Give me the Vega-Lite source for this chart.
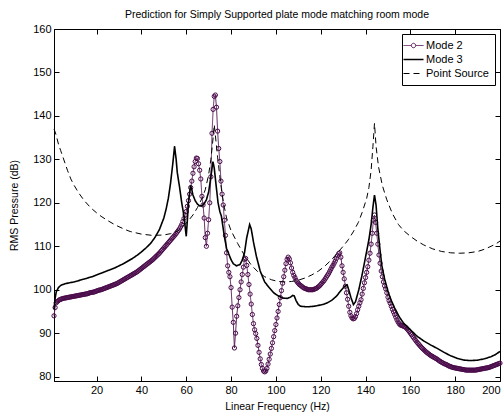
{
"$schema": "https://vega.github.io/schema/vega-lite/v6.json",
"width": 446, "height": 352,
"autosize": {"type": "none"},
"padding": {"left": 54, "top": 29, "right": 3, "bottom": 33},
"background": "white",
"title": {"text": "Prediction for Simply Supported plate mode matching room mode", "fontSize": 10.5, "fontWeight": "normal", "font": "Liberation Sans", "offset": 3, "color": "black"},
"config": {
 "view": {"stroke": "black", "strokeWidth": 1},
 "axis": {"domainColor": "black", "tickColor": "black", "labelColor": "black", "titleColor": "black", "labelFont": "Liberation Sans", "titleFont": "Liberation Sans", "labelFontSize": 11, "titleFontSize": 10.5, "titleFontWeight": "normal", "grid": false, "tickSize": -5, "labelPadding": 8},
 "legend": {"labelFont": "Liberation Sans", "labelFontSize": 11, "labelColor": "black"}
},
"datasets": {
"m2": [{"f":1,"p":94},{"f":1.5,"p":95.9},{"f":2,"p":97},{"f":2.5,"p":97.3},{"f":3,"p":97.5},{"f":3.5,"p":97.7},{"f":4,"p":97.8},{"f":4.5,"p":97.9},{"f":5,"p":98},{"f":5.5,"p":98.05},{"f":6,"p":98.1},{"f":6.5,"p":98.15},{"f":7,"p":98.2},{"f":7.5,"p":98.25},{"f":8,"p":98.3},{"f":8.5,"p":98.35},{"f":9,"p":98.4},{"f":9.5,"p":98.45},{"f":10,"p":98.5},{"f":10.5,"p":98.55},{"f":11,"p":98.6},{"f":11.5,"p":98.65},{"f":12,"p":98.7},{"f":12.5,"p":98.75},{"f":13,"p":98.8},{"f":13.5,"p":98.85},{"f":14,"p":98.9},{"f":14.5,"p":98.95},{"f":15,"p":99},{"f":15.5,"p":99.05},{"f":16,"p":99.1},{"f":16.5,"p":99.2},{"f":17,"p":99.3},{"f":17.5,"p":99.35},{"f":18,"p":99.4},{"f":18.5,"p":99.45},{"f":19,"p":99.5},{"f":19.5,"p":99.6},{"f":20,"p":99.7},{"f":20.5,"p":99.8},{"f":21,"p":99.9},{"f":21.5,"p":99.95},{"f":22,"p":100},{"f":22.5,"p":100.1},{"f":23,"p":100.2},{"f":23.5,"p":100.3},{"f":24,"p":100.4},{"f":24.5,"p":100.5},{"f":25,"p":100.6},{"f":25.5,"p":100.7},{"f":26,"p":100.8},{"f":26.5,"p":100.9},{"f":27,"p":101},{"f":27.5,"p":101.1},{"f":28,"p":101.2},{"f":28.5,"p":101.3},{"f":29,"p":101.4},{"f":29.5,"p":101.55},{"f":30,"p":101.7},{"f":30.5,"p":101.85},{"f":31,"p":102},{"f":31.5,"p":102.15},{"f":32,"p":102.3},{"f":32.5,"p":102.45},{"f":33,"p":102.6},{"f":33.5,"p":102.75},{"f":34,"p":102.9},{"f":34.5,"p":103.05},{"f":35,"p":103.2},{"f":35.5,"p":103.35},{"f":36,"p":103.5},{"f":36.5,"p":103.65},{"f":37,"p":103.8},{"f":37.5,"p":103.95},{"f":38,"p":104.1},{"f":38.5,"p":104.3},{"f":39,"p":104.5},{"f":39.5,"p":104.7},{"f":40,"p":104.9},{"f":40.5,"p":105.1},{"f":41,"p":105.3},{"f":41.5,"p":105.5},{"f":42,"p":105.7},{"f":42.5,"p":105.9},{"f":43,"p":106.1},{"f":43.5,"p":106.3},{"f":44,"p":106.5},{"f":44.5,"p":106.7},{"f":45,"p":106.9},{"f":45.5,"p":107.15},{"f":46,"p":107.4},{"f":46.5,"p":107.65},{"f":47,"p":107.9},{"f":47.5,"p":108.15},{"f":48,"p":108.4},{"f":48.5,"p":108.7},{"f":49,"p":109},{"f":49.5,"p":109.3},{"f":50,"p":109.6},{"f":50.5,"p":109.9},{"f":51,"p":110.2},{"f":51.5,"p":110.5},{"f":52,"p":110.8},{"f":52.5,"p":111.1},{"f":53,"p":111.4},{"f":53.5,"p":111.7},{"f":54,"p":112},{"f":54.5,"p":112.3},{"f":55,"p":112.6},{"f":55.5,"p":112.95},{"f":56,"p":113.3},{"f":56.5,"p":113.65},{"f":57,"p":114},{"f":57.5,"p":114.5},{"f":58,"p":115},{"f":58.5,"p":115.7},{"f":59,"p":116.4},{"f":59.5,"p":117.2},{"f":60,"p":118},{"f":60.5,"p":119.2},{"f":61,"p":120.5},{"f":61.5,"p":122},{"f":62,"p":123.5},{"f":62.5,"p":125},{"f":63,"p":126.8},{"f":63.5,"p":128.3},{"f":64,"p":129.5},{"f":64.5,"p":130.3},{"f":65,"p":130.2},{"f":65.5,"p":129},{"f":66,"p":127.5},{"f":66.5,"p":125.5},{"f":67,"p":121.5},{"f":67.5,"p":119.5},{"f":68,"p":116.5},{"f":68.5,"p":112},{"f":69,"p":110},{"f":69.5,"p":113},{"f":70,"p":116.1},{"f":70.5,"p":120},{"f":71,"p":126},{"f":71.5,"p":136},{"f":72,"p":141.5},{"f":72.5,"p":144.5},{"f":73,"p":144.8},{"f":73.5,"p":142},{"f":74,"p":136.5},{"f":74.5,"p":132.5},{"f":75,"p":129.5},{"f":75.5,"p":125},{"f":76,"p":122},{"f":76.5,"p":119.5},{"f":77,"p":116},{"f":77.5,"p":112.5},{"f":78,"p":108.5},{"f":78.5,"p":105.5},{"f":79,"p":104},{"f":79.5,"p":103},{"f":80,"p":100.5},{"f":80.5,"p":96},{"f":81,"p":92.5},{"f":81.5,"p":86.6},{"f":82,"p":90},{"f":82.5,"p":93.9},{"f":83,"p":96.3},{"f":83.5,"p":98.2},{"f":84,"p":100},{"f":84.5,"p":101.8},{"f":85,"p":103.5},{"f":85.5,"p":105.2},{"f":86,"p":107},{"f":86.5,"p":107.2},{"f":87,"p":105.6},{"f":87.5,"p":103.5},{"f":88,"p":101.2},{"f":88.5,"p":99},{"f":89,"p":96.7},{"f":89.5,"p":94.3},{"f":90,"p":92.2},{"f":90.5,"p":90.8},{"f":91,"p":89.9},{"f":91.5,"p":88.8},{"f":92,"p":87.2},{"f":92.5,"p":85.6},{"f":93,"p":84.1},{"f":93.5,"p":82.8},{"f":94,"p":81.9},{"f":94.5,"p":81.3},{"f":95,"p":81.1},{"f":95.5,"p":81.3},{"f":96,"p":81.9},{"f":96.5,"p":82.9},{"f":97,"p":84},{"f":97.5,"p":85.2},{"f":98,"p":86.5},{"f":98.5,"p":87.8},{"f":99,"p":89.2},{"f":99.5,"p":90.6},{"f":100,"p":92},{"f":100.5,"p":93.5},{"f":101,"p":95},{"f":101.5,"p":96.6},{"f":102,"p":98.2},{"f":102.5,"p":99.8},{"f":103,"p":101.5},{"f":103.5,"p":103},{"f":104,"p":104.5},{"f":104.5,"p":106},{"f":105,"p":107},{"f":105.5,"p":107.5},{"f":106,"p":107.1},{"f":106.5,"p":106.2},{"f":107,"p":105},{"f":107.5,"p":104},{"f":108,"p":103.3},{"f":108.5,"p":102.8},{"f":109,"p":102.2},{"f":109.5,"p":101.8},{"f":110,"p":101.5},{"f":110.5,"p":101.2},{"f":111,"p":101},{"f":111.5,"p":100.8},{"f":112,"p":100.6},{"f":112.5,"p":100.4},{"f":113,"p":100.3},{"f":113.5,"p":100.2},{"f":114,"p":100.1},{"f":114.5,"p":100},{"f":115,"p":100},{"f":115.5,"p":100},{"f":116,"p":100},{"f":116.5,"p":100},{"f":117,"p":100.1},{"f":117.5,"p":100.2},{"f":118,"p":100.3},{"f":118.5,"p":100.5},{"f":119,"p":100.7},{"f":119.5,"p":100.9},{"f":120,"p":101.2},{"f":120.5,"p":101.5},{"f":121,"p":101.8},{"f":121.5,"p":102.1},{"f":122,"p":102.5},{"f":122.5,"p":102.9},{"f":123,"p":103.3},{"f":123.5,"p":103.7},{"f":124,"p":104.2},{"f":124.5,"p":104.7},{"f":125,"p":105.2},{"f":125.5,"p":105.6},{"f":126,"p":106.1},{"f":126.5,"p":106.6},{"f":127,"p":107.2},{"f":127.5,"p":107.8},{"f":128,"p":108.3},{"f":128.5,"p":108.5},{"f":129,"p":107.5},{"f":129.5,"p":105.5},{"f":130,"p":104},{"f":130.5,"p":102.5},{"f":131,"p":100.8},{"f":131.5,"p":99.3},{"f":132,"p":97.8},{"f":132.5,"p":96.2},{"f":133,"p":94.8},{"f":133.5,"p":94},{"f":134,"p":93.5},{"f":134.5,"p":93.3},{"f":135,"p":93.4},{"f":135.5,"p":93.8},{"f":136,"p":94.5},{"f":136.5,"p":95.4},{"f":137,"p":96.2},{"f":137.5,"p":97},{"f":138,"p":97.7},{"f":138.5,"p":99},{"f":139,"p":100.3},{"f":139.5,"p":101.6},{"f":140,"p":102.8},{"f":140.5,"p":104},{"f":141,"p":105.3},{"f":141.5,"p":106.8},{"f":142,"p":108.4},{"f":142.5,"p":110.5},{"f":143,"p":113},{"f":143.5,"p":116},{"f":144,"p":117.2},{"f":144.5,"p":115.5},{"f":145,"p":113},{"f":145.5,"p":110.5},{"f":146,"p":108},{"f":146.5,"p":106.1},{"f":147,"p":104.3},{"f":147.5,"p":103},{"f":148,"p":101.8},{"f":148.5,"p":100.9},{"f":149,"p":100.2},{"f":149.5,"p":99.3},{"f":150,"p":98.3},{"f":150.5,"p":97.5},{"f":151,"p":96.9},{"f":151.5,"p":96.2},{"f":152,"p":95.5},{"f":152.5,"p":94.9},{"f":153,"p":94.3},{"f":153.5,"p":93.7},{"f":154,"p":93.1},{"f":154.5,"p":92.6},{"f":155,"p":92.2},{"f":155.5,"p":91.9},{"f":156,"p":91.8},{"f":156.5,"p":91.7},{"f":157,"p":91.6},{"f":157.5,"p":91.5},{"f":158,"p":91.3},{"f":158.5,"p":91},{"f":159,"p":90.7},{"f":159.5,"p":90.4},{"f":160,"p":90},{"f":160.5,"p":89.65},{"f":161,"p":89.3},{"f":161.5,"p":88.95},{"f":162,"p":88.6},{"f":162.5,"p":88.25},{"f":163,"p":87.9},{"f":163.5,"p":87.6},{"f":164,"p":87.3},{"f":164.5,"p":87},{"f":165,"p":86.7},{"f":165.5,"p":86.45},{"f":166,"p":86.2},{"f":166.5,"p":85.95},{"f":167,"p":85.7},{"f":167.5,"p":85.5},{"f":168,"p":85.3},{"f":168.5,"p":85.1},{"f":169,"p":84.9},{"f":169.5,"p":84.75},{"f":170,"p":84.6},{"f":170.5,"p":84.45},{"f":171,"p":84.3},{"f":171.5,"p":84.15},{"f":172,"p":84},{"f":172.5,"p":83.8},{"f":173,"p":83.6},{"f":173.5,"p":83.45},{"f":174,"p":83.3},{"f":174.5,"p":83.15},{"f":175,"p":83},{"f":175.5,"p":82.9},{"f":176,"p":82.8},{"f":176.5,"p":82.65},{"f":177,"p":82.5},{"f":177.5,"p":82.4},{"f":178,"p":82.3},{"f":178.5,"p":82.2},{"f":179,"p":82.1},{"f":179.5,"p":82.05},{"f":180,"p":82},{"f":180.5,"p":81.95},{"f":181,"p":81.9},{"f":181.5,"p":81.85},{"f":182,"p":81.8},{"f":182.5,"p":81.75},{"f":183,"p":81.7},{"f":183.5,"p":81.65},{"f":184,"p":81.6},{"f":184.5,"p":81.55},{"f":185,"p":81.5},{"f":185.5,"p":81.5},{"f":186,"p":81.5},{"f":186.5,"p":81.5},{"f":187,"p":81.5},{"f":187.5,"p":81.5},{"f":188,"p":81.5},{"f":188.5,"p":81.5},{"f":189,"p":81.5},{"f":189.5,"p":81.55},{"f":190,"p":81.6},{"f":190.5,"p":81.65},{"f":191,"p":81.7},{"f":191.5,"p":81.75},{"f":192,"p":81.8},{"f":192.5,"p":81.85},{"f":193,"p":81.9},{"f":193.5,"p":81.95},{"f":194,"p":82},{"f":194.5,"p":82.05},{"f":195,"p":82.1},{"f":195.5,"p":82.2},{"f":196,"p":82.3},{"f":196.5,"p":82.4},{"f":197,"p":82.5},{"f":197.5,"p":82.6},{"f":198,"p":82.7},{"f":198.5,"p":82.8},{"f":199,"p":82.9},{"f":199.5,"p":83},{"f":200,"p":83.1}],
"m3": [{"f":1,"p":95.5},{"f":1.5,"p":98},{"f":2,"p":99.5},{"f":3,"p":100.5},{"f":4,"p":101},{"f":5,"p":101.2},{"f":6,"p":101.4},{"f":8,"p":101.6},{"f":10,"p":101.8},{"f":12,"p":102.1},{"f":14,"p":102.4},{"f":16,"p":102.7},{"f":18,"p":103},{"f":20,"p":103.4},{"f":22,"p":103.8},{"f":24,"p":104.2},{"f":26,"p":104.6},{"f":28,"p":105},{"f":30,"p":105.5},{"f":32,"p":106},{"f":34,"p":106.6},{"f":36,"p":107.2},{"f":38,"p":107.9},{"f":40,"p":108.7},{"f":42,"p":109.6},{"f":44,"p":110.6},{"f":46,"p":112},{"f":48,"p":113.8},{"f":50,"p":116.5},{"f":51,"p":118.5},{"f":52,"p":121},{"f":53,"p":124.5},{"f":54,"p":129},{"f":54.8,"p":133},{"f":55.5,"p":130},{"f":56,"p":127},{"f":57,"p":123.7},{"f":58,"p":120},{"f":59,"p":116.9},{"f":60,"p":112.3},{"f":60.5,"p":116},{"f":61,"p":120},{"f":61.9,"p":124},{"f":62.5,"p":123},{"f":63,"p":121.8},{"f":64,"p":120.5},{"f":65,"p":119.7},{"f":66,"p":119.3},{"f":67,"p":119.3},{"f":68,"p":119.8},{"f":69,"p":120.7},{"f":70,"p":122.5},{"f":71,"p":126},{"f":71.9,"p":129.5},{"f":72.5,"p":128},{"f":73.4,"p":123.7},{"f":74.2,"p":120},{"f":75,"p":118},{"f":75.7,"p":116.9},{"f":77,"p":112.3},{"f":78,"p":109.5},{"f":80,"p":106.9},{"f":81,"p":106},{"f":82.4,"p":105.5},{"f":84,"p":105.8},{"f":85,"p":106.8},{"f":86,"p":108.5},{"f":87,"p":112},{"f":88.3,"p":115},{"f":89,"p":114},{"f":90,"p":111},{"f":91.3,"p":107.7},{"f":93,"p":104.3},{"f":95,"p":101.8},{"f":97,"p":100.5},{"f":99,"p":99.3},{"f":101,"p":98.6},{"f":103,"p":98.1},{"f":105,"p":98},{"f":106.5,"p":98.3},{"f":107.5,"p":98.7},{"f":108.2,"p":98.6},{"f":109,"p":97.5},{"f":110,"p":96.6},{"f":111,"p":96.2},{"f":113,"p":96.1},{"f":115,"p":96.1},{"f":117,"p":96.2},{"f":119,"p":96.4},{"f":121,"p":96.6},{"f":123,"p":97},{"f":125,"p":97.6},{"f":127,"p":98.5},{"f":129,"p":99.8},{"f":130.5,"p":100.7},{"f":131.8,"p":101.1},{"f":132.5,"p":100},{"f":133.5,"p":98.2},{"f":134.6,"p":96.6},{"f":135.5,"p":97.2},{"f":137,"p":100},{"f":138.5,"p":103.5},{"f":140,"p":107.5},{"f":141.5,"p":111.5},{"f":142.5,"p":115},{"f":143.3,"p":119},{"f":144,"p":121.8},{"f":144.7,"p":119.5},{"f":145.5,"p":114},{"f":146.5,"p":109},{"f":147.3,"p":105.5},{"f":148.5,"p":102.5},{"f":150,"p":99.6},{"f":151.5,"p":97.5},{"f":153,"p":95.8},{"f":155,"p":93.8},{"f":157,"p":92.3},{"f":160,"p":90.8},{"f":163,"p":89.3},{"f":166,"p":88.2},{"f":169,"p":87.3},{"f":172,"p":86.5},{"f":175,"p":85.6},{"f":178,"p":84.8},{"f":181,"p":84.2},{"f":184,"p":83.8},{"f":187,"p":83.7},{"f":190,"p":83.8},{"f":193,"p":84.1},{"f":196,"p":84.6},{"f":198,"p":85.1},{"f":200,"p":85.8}],
"ps": [{"f":1,"p":137},{"f":1.5,"p":136.3},{"f":2,"p":135.5},{"f":3,"p":133.5},{"f":4,"p":132},{"f":5,"p":130.5},{"f":6,"p":129},{"f":7,"p":127.5},{"f":8.5,"p":125.5},{"f":10,"p":124},{"f":12,"p":122.3},{"f":14.5,"p":120.5},{"f":17.5,"p":118.8},{"f":20,"p":117.7},{"f":22,"p":116.9},{"f":25,"p":115.9},{"f":28,"p":115},{"f":30,"p":114.5},{"f":32.5,"p":113.9},{"f":35,"p":113.4},{"f":40,"p":112.8},{"f":45,"p":112.5},{"f":50,"p":112.6},{"f":53,"p":112.9},{"f":55,"p":113.2},{"f":57,"p":113.8},{"f":59,"p":114.8},{"f":61,"p":115.9},{"f":63,"p":117.2},{"f":65,"p":118.9},{"f":67,"p":121},{"f":68.5,"p":123},{"f":70,"p":126.5},{"f":71,"p":130},{"f":72,"p":135},{"f":72.5,"p":138},{"f":73,"p":135.5},{"f":74,"p":130.5},{"f":75,"p":126},{"f":76,"p":122},{"f":77,"p":119},{"f":78,"p":116.5},{"f":80,"p":113.6},{"f":83,"p":110.6},{"f":86,"p":107.9},{"f":89,"p":105.7},{"f":92,"p":104.1},{"f":95,"p":103},{"f":98,"p":102.3},{"f":101,"p":101.9},{"f":104,"p":101.8},{"f":107,"p":101.9},{"f":110,"p":102.2},{"f":113,"p":102.7},{"f":116,"p":103.4},{"f":119,"p":104.3},{"f":122,"p":105.5},{"f":125,"p":107},{"f":128,"p":108.8},{"f":130,"p":110},{"f":132.3,"p":111.5},{"f":134.5,"p":113.3},{"f":136.8,"p":115.5},{"f":138.5,"p":117.8},{"f":140.5,"p":121},{"f":141.5,"p":123.5},{"f":142.5,"p":127.5},{"f":143.3,"p":133},{"f":144,"p":138.3},{"f":144.7,"p":133},{"f":145.8,"p":128.3},{"f":147.5,"p":124},{"f":149.5,"p":120.7},{"f":152,"p":117.5},{"f":154.7,"p":115},{"f":157,"p":113.6},{"f":160,"p":112.3},{"f":163,"p":111.2},{"f":166,"p":110.3},{"f":170,"p":109.4},{"f":174,"p":108.8},{"f":178,"p":108.5},{"f":182,"p":108.4},{"f":186,"p":108.5},{"f":190,"p":108.8},{"f":193,"p":109.3},{"f":196,"p":110},{"f":198,"p":110.5},{"f":200,"p":111.2}]
},
"resolve": {"axis": {"x": "independent", "y": "independent"}},
"layer": [
 {
  "data": {"name": "m2"},
  "mark": {"type": "line", "strokeWidth": 1},
  "encoding": {
   "x": {"field": "f", "type": "quantitative", "scale": {"domain": [1, 200], "nice": false, "zero": false}, "axis": {"orient": "bottom", "values": [20,40,60,80,100,120,140,160,180,200], "title": "Linear Frequency (Hz)", "titlePadding": 6}},
   "y": {"field": "p", "type": "quantitative", "scale": {"domain": [79, 160], "nice": false, "zero": false}, "axis": {"orient": "left", "values": [80,90,100,110,120,130,140,150,160], "title": "RMS Pressure (dB)", "titlePadding": 13}},
   "color": {"datum": "Mode 2", "type": "nominal", "scale": {"domain": ["Mode 2", "Mode 3", "Point Source"], "range": ["#5b1f5b", "black", "black"]},
    "legend": {"title": null, "orient": "top-right", "offset": 5, "strokeColor": "black", "fillColor": "white", "padding": 6, "symbolType": "stroke", "symbolSize": 400, "symbolStrokeWidth": 1, "labelOffset": 7, "rowPadding": 2,
     "encode": {"symbols": {"update": {"shape": {"signal": "datum.value === 'Mode 2' ? 'M-1,0L-0.22,0M0.22,0L1,0M0.22,0A0.22,0.22 0 1,1 -0.22,0A0.22,0.22 0 1,1 0.22,0' : 'stroke'"}, "strokeWidth": {"signal": "datum.value === 'Mode 3' ? 1.6 : 1"}}}}}},
   "strokeDash": {"datum": "Mode 2", "type": "nominal", "scale": {"domain": ["Mode 2", "Mode 3", "Point Source"], "range": [[1,0],[1,0],[6,4]]}, "legend": {"title": null}}
  }
 },
 {
  "data": {"name": "m2"},
  "mark": {"type": "point", "filled": false, "stroke": "#4a0a4a", "strokeWidth": 1, "size": 18, "opacity": 1},
  "encoding": {
   "x": {"field": "f", "type": "quantitative", "axis": null},
   "y": {"field": "p", "type": "quantitative", "axis": null}
  }
 },
 {
  "data": {"name": "m3"},
  "mark": {"type": "line", "strokeWidth": 1.6},
  "encoding": {
   "x": {"field": "f", "type": "quantitative", "axis": {"orient": "top", "values": [20,40,60,80,100,120,140,160,180,200], "labels": false, "title": null}},
   "y": {"field": "p", "type": "quantitative", "axis": {"orient": "right", "values": [80,90,100,110,120,130,140,150,160], "labels": false, "title": null}},
   "color": {"datum": "Mode 3", "type": "nominal"},
   "strokeDash": {"datum": "Mode 3", "type": "nominal"}
  }
 },
 {
  "data": {"name": "ps"},
  "mark": {"type": "line", "strokeWidth": 1},
  "encoding": {
   "x": {"field": "f", "type": "quantitative", "axis": null},
   "y": {"field": "p", "type": "quantitative", "axis": null},
   "color": {"datum": "Point Source", "type": "nominal"},
   "strokeDash": {"datum": "Point Source", "type": "nominal"}
  }
 }
]
}
